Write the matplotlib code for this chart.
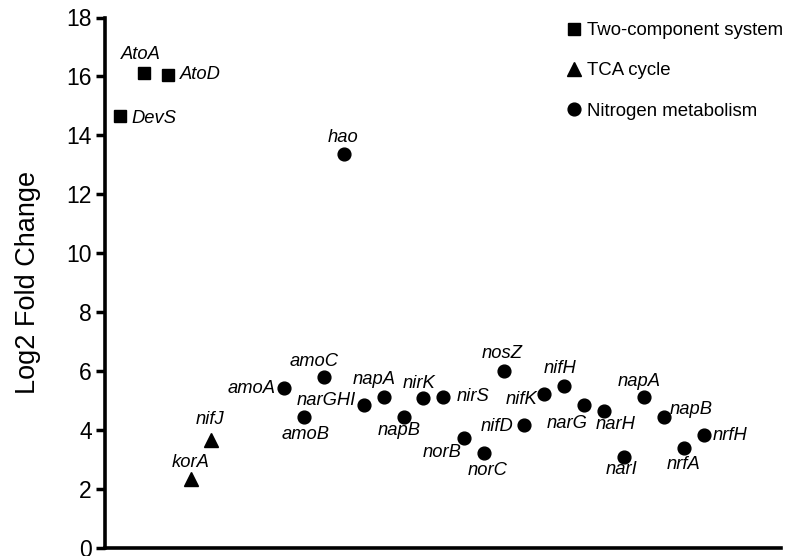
import matplotlib
matplotlib.use("Agg")
import matplotlib.pyplot as plt
from matplotlib.lines import Line2D

plt.rcParams["font.family"] = ["Liberation Sans", "DejaVu Sans"]

# Gene groups: positions along the (unlabelled) x axis and log2 fold changes
tcs_genes = ["DevS", "AtoA", "AtoD"]
tcs_x = [0.75, 1.95, 3.13]
tcs_fc = [14.65, 16.1, 16.05]

tca_genes = ["korA", "nifJ"]
tca_x = [4.29, 5.32]
tca_fc = [2.33, 3.68]

nit_genes = ["amoA", "amoB", "amoC", "hao", "narGHI", "napA", "napB", "nirK",
             "nirS", "norB", "norC", "nosZ", "nifD", "nifK", "nifH", "narG",
             "narH", "narI", "napA", "napB", "nrfA", "nrfH"]
nit_x = [8.94, 9.94, 10.95, 11.94, 12.97, 13.95, 14.95, 15.92,
         16.92, 17.95, 18.95, 19.95, 20.95, 21.95, 22.94, 23.94,
         24.94, 25.94, 26.94, 27.94, 28.94, 29.94]
nit_fc = [5.42, 4.46, 5.80, 13.38, 4.85, 5.11, 4.43, 5.08,
          5.13, 3.72, 3.21, 6.02, 4.16, 5.21, 5.50, 4.86,
          4.64, 3.10, 5.11, 4.43, 3.40, 3.83]

group_names = ["Two-component system", "TCA cycle", "Nitrogen metabolism"]
y_ticks = [0, 2, 4, 6, 8, 10, 12, 14, 16, 18]

# Label placement: (dx, dy in pixels, horizontal alignment)
R, L, C = "left", "right", "center"
tcs_lab = [(11, -2, R), (-3, 19, C), (12, 0, R)]
tca_lab = [(0, 17, C), (-1, 20, C)]
nit_lab = [(-8, 0, L), (2, -18, C), (-10, 16, C), (-1, 16, C), (-8, 5, L),
           (-10, 18, C), (-5, -13, C), (-4, 15, C), (13, 0, R), (-22, -14, C),
           (4, -17, C), (-2, 17, C), (-11, -1, L), (-7, -5, L), (-4, 17, C),
           (-17, -19, C), (12, -13, C), (-2, -13, C), (-5, 16, C), (6, 8, R),
           (0, -17, C), (9, 0, R)]

W, H = 786, 556
fig = plt.figure(figsize=(W / 100, H / 100), dpi=100)
ax = fig.add_axes([105 / W, 8 / H, 676 / W, 530.5 / H])

ax.plot(tcs_x, tcs_fc, "s", color="black", markersize=8.6, linestyle="none")
ax.plot(tca_x, tca_fc, "^", color="black", markersize=10.5, linestyle="none")
ax.plot(nit_x, nit_fc, "o", color="black", markersize=9.2, linestyle="none")

for genes, xs, ys, labs in [(tcs_genes, tcs_x, tcs_fc, tcs_lab),
                            (tca_genes, tca_x, tca_fc, tca_lab),
                            (nit_genes, nit_x, nit_fc, nit_lab)]:
    for g, x, y, (dx, dy, ha) in zip(genes, xs, ys, labs):
        ax.annotate(g, (x, y), xytext=(dx, dy), textcoords="offset pixels",
                    ha=ha, va="center", fontsize=13.2, fontstyle="italic")

ax.set_xlim(0, 33.8)
ax.set_ylim(0, 18)
ax.set_yticks(y_ticks)
ax.set_xticks([])
for side in ("top", "right"):
    ax.spines[side].set_visible(False)
for side in ("left", "bottom"):
    ax.spines[side].set_linewidth(2.6)
ax.tick_params(axis="y", length=6.5, width=2.5, labelsize=16.5, pad=3)
ax.set_ylabel("Log2 Fold Change", fontsize=19.5)
ax.yaxis.set_label_coords(-0.095, 0.5)

handles = [Line2D([], [], marker="s", color="black", linestyle="none", markersize=8.6),
           Line2D([], [], marker="^", color="black", linestyle="none", markersize=10.5),
           Line2D([], [], marker="o", color="black", linestyle="none", markersize=9.2)]
fig.legend(handles, group_names, loc="upper left",
           bbox_to_anchor=(567 / W, 1 - 22 / H), frameon=False, fontsize=13.4,
           handlelength=0.8, handletextpad=0.3, labelspacing=1.25,
           borderpad=0, borderaxespad=0)

fig.savefig("out.png", dpi=100)
